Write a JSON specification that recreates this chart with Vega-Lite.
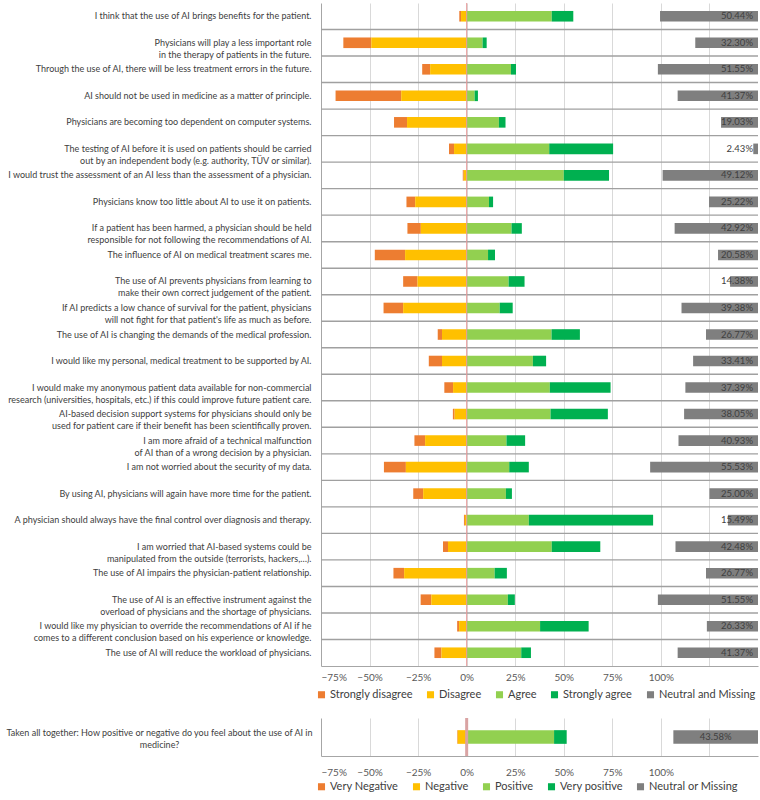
{
  "$schema": "https://vega.github.io/schema/vega-lite/v6.json",
  "padding": {"left": 5, "top": 2, "right": 3, "bottom": 0},
  "spacing": 16,
  "config": {
    "font": "Lato",
    "view": {"stroke": null},
    "axis": {"labelFont": "Lato", "labelColor": "#595959", "labelFontSize": 10, "ticks": false, "title": null},
    "legend": {"labelFont": "Lato", "labelFontSize": 11, "labelColor": "#404040", "symbolType": "square", "symbolSize": 50, "symbolStrokeWidth": 0, "orient": "none", "direction": "horizontal", "columnPadding": 12, "labelOffset": 3, "padding": 0, "title": null}
  },
  "datasets": {
    "top": [
      {"o": 1, "s": "I think that the use of AI brings benefits for the patient.", "Strongly disagree": -0.009, "Disagree": -0.029, "Agree": 0.438, "Strongly agree": 0.111, "N": 0.5044},
      {"o": 2, "s": "Physicians will play a less important role|in the therapy of patients in the future.", "Strongly disagree": -0.144, "Disagree": -0.491, "Agree": 0.082, "Strongly agree": 0.021, "N": 0.3230},
      {"o": 3, "s": "Through the use of AI, there will be less treatment errors in the future.", "Strongly disagree": -0.041, "Disagree": -0.188, "Agree": 0.228, "Strongly agree": 0.026, "N": 0.5155},
      {"o": 4, "s": "AI should not be used in medicine as a matter of principle.", "Strongly disagree": -0.338, "Disagree": -0.337, "Agree": 0.041, "Strongly agree": 0.017, "N": 0.4137},
      {"o": 5, "s": "Physicians are becoming too dependent on computer systems.", "Strongly disagree": -0.067, "Disagree": -0.307, "Agree": 0.166, "Strongly agree": 0.034, "N": 0.1903},
      {"o": 6, "s": "The testing of AI before it is used on patients should be carried|out by an independent body (e.g. authority, TÜV or similar).", "Strongly disagree": -0.026, "Disagree": -0.065, "Agree": 0.425, "Strongly agree": 0.329, "N": 0.0243},
      {"o": 7, "s": "I would trust the assessment of an AI less than the assessment of a physician.", "Strongly disagree": -0.005, "Disagree": -0.015, "Agree": 0.500, "Strongly agree": 0.233, "N": 0.4912},
      {"o": 8, "s": "Physicians know too little about AI to use it on patients.", "Strongly disagree": -0.045, "Disagree": -0.265, "Agree": 0.115, "Strongly agree": 0.021, "N": 0.2522},
      {"o": 9, "s": "If a patient has been harmed, a physician should be held|responsible for not following the recommendations of AI.", "Strongly disagree": -0.069, "Disagree": -0.236, "Agree": 0.231, "Strongly agree": 0.053, "N": 0.4292},
      {"o": 10, "s": "The influence of AI on medical treatment scares me.", "Strongly disagree": -0.156, "Disagree": -0.317, "Agree": 0.110, "Strongly agree": 0.036, "N": 0.2058},
      {"o": 11, "s": "The use of AI prevents physicians from learning to|make their own correct judgement of the patient.", "Strongly disagree": -0.074, "Disagree": -0.253, "Agree": 0.216, "Strongly agree": 0.082, "N": 0.1438},
      {"o": 12, "s": "If AI predicts a low chance of survival for the patient, physicians|will not fight for that patient's life as much as before.", "Strongly disagree": -0.101, "Disagree": -0.327, "Agree": 0.170, "Strongly agree": 0.067, "N": 0.3938},
      {"o": 13, "s": "The use of AI is changing the demands of the medical profession.", "Strongly disagree": -0.022, "Disagree": -0.127, "Agree": 0.437, "Strongly agree": 0.146, "N": 0.2677},
      {"o": 14, "s": "I would like my personal, medical treatment to be supported by AI.", "Strongly disagree": -0.068, "Disagree": -0.127, "Agree": 0.341, "Strongly agree": 0.068, "N": 0.3341},
      {"o": 15, "s": "I would make my anonymous patient data available for non-commercial|research (universities, hospitals, etc.) if this could improve future patient care.", "Strongly disagree": -0.045, "Disagree": -0.070, "Agree": 0.428, "Strongly agree": 0.313, "N": 0.3739},
      {"o": 16, "s": "AI-based decision support systems for physicians should only be|used for patient care if their benefit has been scientifically proven.", "Strongly disagree": -0.009, "Disagree": -0.062, "Agree": 0.432, "Strongly agree": 0.295, "N": 0.3805},
      {"o": 17, "s": "I am more afraid of a technical malfunction|of AI than of a wrong decision by a physician.", "Strongly disagree": -0.055, "Disagree": -0.214, "Agree": 0.205, "Strongly agree": 0.096, "N": 0.4093},
      {"o": 18, "s": "I am not worried about the security of my data.", "Strongly disagree": -0.113, "Disagree": -0.313, "Agree": 0.219, "Strongly agree": 0.101, "N": 0.5553},
      {"o": 19, "s": "By using AI, physicians will again have more time for the patient.", "Strongly disagree": -0.051, "Disagree": -0.224, "Agree": 0.202, "Strongly agree": 0.031, "N": 0.2500},
      {"o": 20, "s": "A physician should always have the final control over diagnosis and therapy.", "Strongly disagree": -0.005, "Disagree": -0.009, "Agree": 0.320, "Strongly agree": 0.640, "N": 0.1549},
      {"o": 21, "s": "I am worried that AI-based systems could be|manipulated from the outside (terrorists, hackers,…).", "Strongly disagree": -0.026, "Disagree": -0.096, "Agree": 0.438, "Strongly agree": 0.250, "N": 0.4248},
      {"o": 22, "s": "The use of AI impairs the physician-patient relationship.", "Strongly disagree": -0.055, "Disagree": -0.322, "Agree": 0.144, "Strongly agree": 0.063, "N": 0.2677},
      {"o": 23, "s": "The use of AI is an effective instrument against the|overload of physicians and the shortage of physicians.", "Strongly disagree": -0.055, "Disagree": -0.182, "Agree": 0.212, "Strongly agree": 0.036, "N": 0.5155},
      {"o": 24, "s": "I would like my physician to override the recommendations of AI if he|comes to a different conclusion based on his experience or knowledge.", "Strongly disagree": -0.010, "Disagree": -0.039, "Agree": 0.378, "Strongly agree": 0.250, "N": 0.2633},
      {"o": 25, "s": "The use of AI will reduce the workload of physicians.", "Strongly disagree": -0.036, "Disagree": -0.130, "Agree": 0.281, "Strongly agree": 0.050, "N": 0.4137}
    ],
    "bottom": [
      {"o": 1, "s": "Taken all together", "Very Negative": -0.003, "Negative": -0.046, "Positive": 0.450, "Very positive": 0.065, "N": 0.4358}
    ]
  },
  "vconcat": [
    {
      "width": 437,
      "height": 663,
      "data": {"name": "top"},
      "layer": [
        {
          "layer": [
            {
              "transform": [{"filter": "datum.o > 1"}],
              "mark": {"type": "rule", "color": "#A0A0A0", "strokeWidth": 1.4},
              "encoding": {
                "y": {"field": "s", "type": "nominal", "bandPosition": 0, "sort": {"field": "o", "op": "min"}}
              }
            },
            {
              "transform": [{"fold": ["Strongly disagree", "Disagree", "Agree", "Strongly agree"]}],
              "mark": {"type": "bar", "height": {"band": 0.4}},
              "encoding": {
                "y": {"field": "s", "type": "nominal", "sort": {"field": "o", "op": "min"},
                  "axis": {"labelExpr": "split(datum.label, '|')", "labelColor": "#404040", "labelFontSize": 9, "labelLineHeight": 12, "labelPadding": 10, "labelLimit": 330, "minExtent": 315, "maxExtent": 315, "domainColor": "#A6A6A6", "grid": false}},
                "x": {"field": "value", "type": "quantitative", "stack": "zero",
                  "scale": {"domain": [-0.75, 1.5], "nice": false},
                  "axis": {"values": [-0.75, -0.5, -0.25, 0, 0.25, 0.5, 0.75, 1, 1.25, 1.5], "format": ".0%", "labelExpr": "datum.value > 1.01 ? '' : datum.label", "grid": true, "gridColor": "#D9D9D9", "gridOpacity": {"condition": {"test": "datum.value < -0.7 || datum.value > 1.4", "value": 0}, "value": 1}, "domainColor": "#A6A6A6", "labelPadding": 6}},
                "color": {"field": "key", "type": "nominal",
                  "scale": {"domain": ["Strongly disagree", "Disagree", "Agree", "Strongly agree", "Neutral and Missing"], "range": ["#ED7D31", "#FFC000", "#92D050", "#00B050", "#7F7F7F"]},
                  "legend": {"legendX": -5, "legendY": 686}},
                "order": {"field": "key", "sort": "ascending"}
              }
            },
            {
              "data": {"values": [{}]},
              "mark": {"type": "rule", "color": "#E89A9A", "strokeWidth": 1},
              "encoding": {"x": {"datum": 0}}
            }
          ]
        },
        {
          "layer": [
            {
              "mark": {"type": "bar", "height": {"band": 0.4}},
              "encoding": {
                "y": {"field": "s", "type": "nominal", "sort": {"field": "o", "op": "min"}},
                "x": {"field": "N", "type": "quantitative", "scale": {"domain": [0, 2.25], "reverse": true, "nice": false}, "axis": null},
                "color": {"datum": "Neutral and Missing", "type": "nominal",
                  "scale": {"domain": ["Strongly disagree", "Disagree", "Agree", "Strongly agree", "Neutral and Missing"], "range": ["#ED7D31", "#FFC000", "#92D050", "#00B050", "#7F7F7F"]}}
              }
            },
            {
              "mark": {"type": "text", "align": "right", "dx": -5, "fontSize": 9.5, "color": "#404040"},
              "encoding": {
                "y": {"field": "s", "type": "nominal", "sort": {"field": "o", "op": "min"}},
                "x": {"datum": 0},
                "text": {"field": "N", "type": "quantitative", "format": ".2%"}
              }
            }
          ]
        }
      ],
      "resolve": {"scale": {"x": "independent"}}
    },
    {
      "width": 437,
      "height": 38,
      "data": {"name": "bottom"},
      "layer": [
        {
          "layer": [
            {
              "transform": [{"fold": ["Very Negative", "Negative", "Positive", "Very positive"]}],
              "mark": {"type": "bar", "height": {"band": 0.4}},
              "encoding": {
                "y": {"field": "s", "type": "nominal",
                  "title": ["Taken all together: How positive or negative do you feel about the use of AI in", "medicine?"],
                  "axis": {"labels": false, "domainColor": "#A6A6A6", "grid": false, "minExtent": 315, "maxExtent": 315,
                    "titleAngle": 0, "titleAlign": "center", "titleBaseline": "middle", "titleX": -162, "titleY": 14,
                    "titleFont": "Lato", "titleFontSize": 9, "titleFontWeight": "normal", "titleColor": "#404040", "titleLineHeight": 12}},
                "x": {"field": "value", "type": "quantitative", "stack": "zero",
                  "scale": {"domain": [-0.75, 1.5], "nice": false},
                  "axis": {"values": [-0.75, -0.5, -0.25, 0, 0.25, 0.5, 0.75, 1, 1.25, 1.5], "format": ".0%", "labelExpr": "datum.value > 1.01 ? '' : datum.label", "grid": true, "gridColor": "#D9D9D9", "gridOpacity": {"condition": {"test": "datum.value < -0.7 || datum.value > 1.4", "value": 0}, "value": 1}, "domainColor": "#A6A6A6", "labelPadding": 11}},
                "color": {"field": "key", "type": "nominal",
                  "scale": {"domain": ["Very Negative", "Negative", "Positive", "Very positive", "Neutral or Missing"], "range": ["#ED7D31", "#FFC000", "#92D050", "#00B050", "#7F7F7F"]},
                  "legend": {"legendX": -5, "legendY": 63}},
                "order": {"field": "key", "sort": "ascending"}
              }
            },
            {
              "data": {"values": [{}]},
              "mark": {"type": "rule", "color": "#D9A3A3", "strokeWidth": 3},
              "encoding": {"x": {"datum": 0}}
            }
          ]
        },
        {
          "mark": {"type": "bar", "height": {"band": 0.4}},
          "encoding": {
            "y": {"field": "s", "type": "nominal"},
            "x": {"field": "N", "type": "quantitative", "scale": {"domain": [0, 2.25], "reverse": true, "nice": false}, "axis": null},
            "color": {"datum": "Neutral or Missing", "type": "nominal",
              "scale": {"domain": ["Very Negative", "Negative", "Positive", "Very positive", "Neutral or Missing"], "range": ["#ED7D31", "#FFC000", "#92D050", "#00B050", "#7F7F7F"]}}
          }
        },
        {
          "mark": {"type": "text", "align": "center", "fontSize": 9.5, "color": "#404040"},
          "encoding": {
            "y": {"field": "s", "type": "nominal"},
            "x": {"field": "N", "type": "quantitative", "scale": {"domain": [0, 4.5], "reverse": true, "nice": false}, "axis": null},
            "text": {"field": "N", "type": "quantitative", "format": ".2%"}
          }
        }
      ],
      "resolve": {"scale": {"x": "independent"}}
    }
  ],
  "resolve": {"scale": {"color": "independent"}, "legend": {"color": "independent"}}
}
